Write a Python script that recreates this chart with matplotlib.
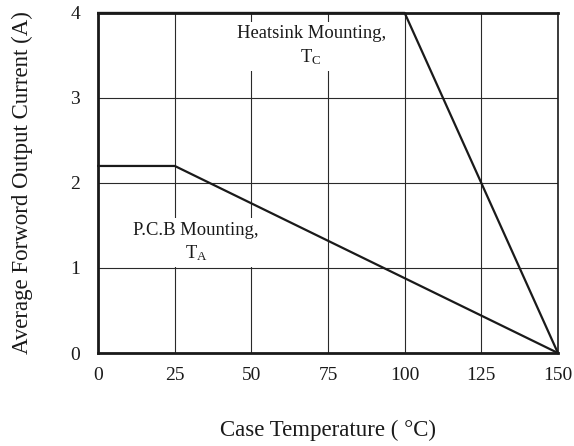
import matplotlib
matplotlib.use('Agg')
import matplotlib.pyplot as plt

plt.rcParams['font.family'] = ['Liberation Serif', 'DejaVu Serif']
plt.rcParams['mathtext.fontset'] = 'stix'

# derating curves
heatsink_temp = [0, 100, 150]
heatsink_current = [4.0, 4.0, 0.0]
pcb_temp = [0, 25, 150]
pcb_current = [2.2, 2.2, 0.0]

x_ticks = [0, 25, 50, 75, 100, 125, 150]
y_ticks = [0, 1, 2, 3, 4]

fig = plt.figure(figsize=(5.74, 4.46), dpi=100)
ax = fig.add_axes([0.171, 0.2085, 0.801, 0.7625])

ax.plot(heatsink_temp, heatsink_current, color='#1a1a1a', linewidth=1.6, zorder=4, clip_on=False)
ax.plot(pcb_temp, pcb_current, color='#1a1a1a', linewidth=1.6, zorder=4, clip_on=False)

ax.set_xlim(0, 150)
ax.set_ylim(0, 4)
ax.set_xticks(x_ticks)
ax.set_yticks(y_ticks)
ax.tick_params(length=0, labelsize=14, colors='#1a1a1a')
ax.tick_params(axis='x', pad=10)
ax.tick_params(axis='y', pad=13)
ax.grid(True, color='#2a2a2a', linewidth=0.8, zorder=1)

for side in ['left', 'bottom', 'top']:
    ax.spines[side].set_linewidth(2.0)
ax.spines['right'].set_linewidth(1.2)
for s in ax.spines.values():
    s.set_color('#1a1a1a')

label_box = dict(boxstyle='square,pad=0.2', facecolor='white', edgecolor='none')
ax.text(69.5, 3.61, 'Heatsink Mounting,\nT$_{\\mathregular{C}}$', ha='center', va='center',
        fontsize=13.4, color='#1a1a1a', linespacing=1.35, zorder=3, bbox=label_box)
ax.text(32, 1.30, 'P.C.B Mounting,\nT$_{\\mathregular{A}}$', ha='center', va='center',
        fontsize=13.4, color='#1a1a1a', linespacing=1.35, zorder=3, bbox=label_box)

ax.set_xlabel('Case Temperature ( °C)', fontsize=16.5, labelpad=26, color='#1a1a1a')
ax.set_ylabel('Average Forword Output Current (A)', fontsize=16.5, labelpad=27, color='#1a1a1a')

fig.savefig('out.png', dpi=100, facecolor='white')
